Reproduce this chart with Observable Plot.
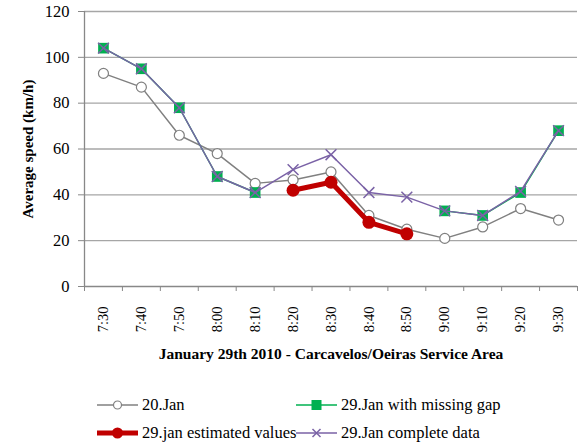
<!DOCTYPE html>
<html><head><meta charset="utf-8">
<script src="https://cdn.jsdelivr.net/npm/d3@7"></script>
<script src="https://cdn.jsdelivr.net/npm/@observablehq/plot@0.6"></script>
<style>
body{margin:0;background:#fff;font-family:"Liberation Serif","Times New Roman",serif;}
#chart{width:584px;height:368px;}
#chart svg{font-family:"Liberation Serif","Times New Roman",serif;color:#000;background:#fff;}
#chart g[aria-label="x-axis label"] text{font-weight:bold;font-size:15.5px;}
#chart g[aria-label="y-axis label"] text{font-weight:bold;font-size:15px;}
#legend{position:relative;width:584px;height:75px;font-size:16.5px;color:#000;font-family:"Liberation Serif","Times New Roman",serif;}
.item{position:absolute;display:flex;align-items:center;white-space:nowrap;}
.item svg{margin-right:4px;}
</style></head>
<body>
<div id="chart"></div>
<div id="legend"></div>
<script>
const times = ["7:30","7:40","7:50","8:00","8:10","8:20","8:30","8:40","8:50","9:00","9:10","9:20","9:30"];
const jan20 = [93, 87, 66, 58, 45, 46.5, 50, 31, 25, 21, 26, 34, 29];
const jan29Gap = [104, 95, 78, 48, 41, null, null, null, null, 33, 31, 41, 68];
const jan29Est = [null, null, null, null, null, 42, 45.5, 28, 23, null, null, null, null];
const jan29Complete = [104, 95, 78, 48, 41, 51, 57.5, 41, 39, 33, 31, 41.5, 68];
const yTicks = [0, 20, 40, 60, 80, 100, 120];

const seriesNames = ["20.Jan", "29.Jan with missing gap", "29.jan estimated values", "29.Jan complete data"];
const colors = {gray: "#808080", green: "#00B050", red: "#C00000", purple: "#7A62A6"};

const rows = (vals) => vals.map((v, i) => ({i, v: v == null ? NaN : v}));
const d20 = rows(jan20), dGap = rows(jan29Gap), dEst = rows(jan29Est), dComp = rows(jan29Complete);
const idx = d3.range(times.length);
const bounds = d3.range(times.length + 1).map(k => k - 0.5);

const plot = Plot.plot({
  width: 584, height: 368,
  marginLeft: 84, marginRight: 7, marginTop: 11, marginBottom: 82,
  style: {fontSize: "15px", fontFamily: "Liberation Serif, serif"},
  x: {type: "linear", domain: [-0.5, times.length - 0.5]},
  y: {domain: [0, 120]},
  marks: [
    Plot.gridY(yTicks.filter(t => t > 0), {stroke: "#a6a6a6", strokeOpacity: 1, strokeWidth: 1.3}),
    Plot.ruleX([-0.5], {stroke: "#888", strokeWidth: 1.3}),
    Plot.ruleY([0], {stroke: "#888", strokeWidth: 1.3}),
    Plot.axisY({ticks: yTicks, tickSize: 6, tickPadding: 9, stroke: "#888", fontSize: 16.5,
      label: "Average speed (km/h)", labelAnchor: "center", labelOffset: 62, labelArrow: "none"}),
    Plot.axisX({ticks: bounds, tickFormat: () => "", tickSize: 5, stroke: "#888", label: null}),
    Plot.axisX({ticks: idx, tickFormat: i => times[i], tickSize: 0, tickPadding: 20, tickRotate: -90, fontSize: 14.5,
      label: "January 29th 2010 - Carcavelos/Oeiras Service Area", labelAnchor: "center", labelOffset: 72, labelArrow: "none"}),
    Plot.line(d20, {x: "i", y: "v", stroke: colors.gray, strokeWidth: 1.5}),
    Plot.dot(d20, {x: "i", y: "v", r: 5, stroke: colors.gray, fill: "white", strokeWidth: 1.2}),
    Plot.line(dGap, {x: "i", y: "v", stroke: colors.green, strokeWidth: 1.5}),
    Plot.dot(dGap, {x: "i", y: "v", symbol: "square", r: 6, fill: colors.green}),
    Plot.line(dEst, {x: "i", y: "v", stroke: colors.red, strokeWidth: 5}),
    Plot.dot(dEst, {x: "i", y: "v", r: 6.5, fill: colors.red}),
    Plot.line(dComp, {x: "i", y: "v", stroke: colors.purple, strokeWidth: 1.5}),
    Plot.dot(dComp, {x: "i", y: "v", symbol: "times", r: 5, stroke: colors.purple, strokeWidth: 1.5})
  ]
});
document.getElementById("chart").appendChild(plot);

// legend
const legend = document.getElementById("legend");
const swatch = (kind) => {
  const ns = "http://www.w3.org/2000/svg";
  const s = document.createElementNS(ns, "svg");
  s.setAttribute("width", 41); s.setAttribute("height", 16);
  let html = "";
  if (kind === 0) html = `<line x1="0" y1="8" x2="41" y2="8" stroke="${colors.gray}" stroke-width="1.5"/><circle cx="20.5" cy="8" r="4" fill="white" stroke="${colors.gray}" stroke-width="1.2"/>`;
  if (kind === 1) html = `<line x1="0" y1="8" x2="41" y2="8" stroke="${colors.green}" stroke-width="1.5"/><rect x="15.5" y="3" width="10" height="10" fill="${colors.green}"/>`;
  if (kind === 2) html = `<line x1="0" y1="8" x2="41" y2="8" stroke="${colors.red}" stroke-width="5"/><circle cx="20.5" cy="8" r="5.5" fill="${colors.red}"/>`;
  if (kind === 3) html = `<line x1="0" y1="8" x2="41" y2="8" stroke="${colors.purple}" stroke-width="1.5"/><path d="M16.5,4L24.5,12M24.5,4L16.5,12" stroke="${colors.purple}" stroke-width="1.5"/>`;
  s.innerHTML = html;
  return s;
};
const pos = [[97, 37], [296, 37], [97, 65], [296, 65]];
seriesNames.forEach((name, k) => {
  const d = document.createElement("div");
  d.className = "item";
  d.style.left = pos[k][0] + "px";
  d.style.top = (pos[k][1] - 10) + "px";
  d.appendChild(swatch(k));
  const t = document.createElement("span");
  t.textContent = name;
  d.appendChild(t);
  legend.appendChild(d);
});
</script>
</body></html>
